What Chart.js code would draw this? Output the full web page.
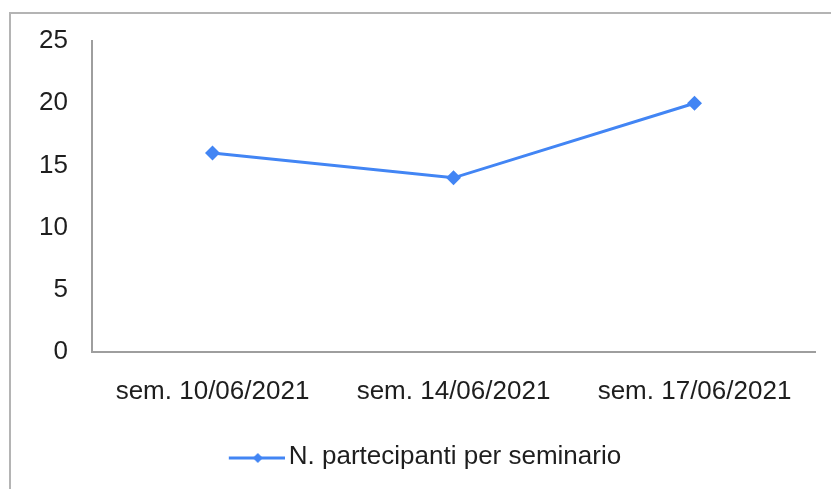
<!DOCTYPE html>
<html>
<head>
<meta charset="utf-8">
<script src="https://cdn.jsdelivr.net/npm/chart.js@4/dist/chart.umd.min.js"></script>
<style>
  html, body { margin: 0; padding: 0; background: #fff; overflow: hidden; }
  #frame { position: absolute; left: 9px; top: 12px; width: 900px; height: 600px; border: 2px solid #b4b4b4; background: #fff; }
  #wrap { position: absolute; left: 0; top: 0; width: 831px; height: 489px; }
</style>
</head>
<body>
<div id="frame"></div>
<div id="wrap"><canvas id="c" width="831" height="489"></canvas></div>
<script>
const categories = ["sem. 10/06/2021", "sem. 14/06/2021", "sem. 17/06/2021"];
const seriesName = "N. partecipanti per seminario";
const participants = [16, 14, 20];
const yTicks = [0, 5, 10, 15, 20, 25];

const BLUE = '#4285f4';
const TEXT = '#1e1e1e';
const AXIS = '#9e9e9e';
const FONT = { family: "'Liberation Sans', Arial, sans-serif", size: 26 };

// legend symbol: line with a diamond (image 74 wide, drawn from 18 to 74)
const sym = document.createElement('canvas');
sym.width = 74; sym.height = 16;
(function () {
  const g = sym.getContext('2d');
  g.strokeStyle = BLUE; g.lineWidth = 3;
  g.beginPath(); g.moveTo(18, 9); g.lineTo(74, 9); g.stroke();
  g.fillStyle = BLUE;
  g.beginPath(); g.moveTo(47, 4); g.lineTo(52, 9); g.lineTo(47, 14); g.lineTo(42, 9); g.closePath(); g.fill();
})();

const legendShift = {
  id: 'legendShift',
  afterLayout(chart) {
    const l = chart.legend;
    if (l) { l.left += 13; l.right += 13; }
  }
};

new Chart(document.getElementById('c'), {
  type: 'line',
  data: {
    labels: categories,
    datasets: [{
      label: seriesName,
      data: participants,
      borderColor: BLUE,
      backgroundColor: BLUE,
      borderWidth: 3,
      pointStyle: 'rectRot',
      pointRadius: 7.5,
      pointBorderWidth: 0,
      pointBackgroundColor: BLUE,
      tension: 0,
      fill: false
    }]
  },
  plugins: [legendShift],
  options: {
    responsive: false,
    animation: false,
    devicePixelRatio: 1,
    layout: { padding: { top: 41, right: 16, bottom: 9, left: 0 } },
    plugins: {
      tooltip: { enabled: false },
      legend: {
        position: 'bottom',
        labels: {
          font: FONT,
          color: TEXT,
          usePointStyle: true,
          pointStyleWidth: 56,
          boxHeight: 16,
          padding: 10,
          generateLabels: (chart) => [{
            text: seriesName,
            pointStyle: sym,
            fillStyle: BLUE,
            strokeStyle: BLUE,
            lineWidth: 0,
            hidden: false,
            datasetIndex: 0,
            fontColor: TEXT
          }]
        }
      }
    },
    scales: {
      x: {
        type: 'category',
        offset: true,
        grid: { display: true, drawOnChartArea: false, drawTicks: false },
        border: { display: true, color: AXIS, width: 2 },
        ticks: { font: FONT, color: TEXT, padding: 24, maxRotation: 0, autoSkip: false },
        afterFit: (s) => { s.height = 82; }
      },
      y: {
        min: 0,
        max: 25,
        afterBuildTicks: (s) => { s.ticks = yTicks.map(v => ({ value: v })); },
        grid: { display: true, drawOnChartArea: false, drawTicks: false },
        border: { display: true, color: AXIS, width: 2 },
        ticks: { font: FONT, color: TEXT, padding: 24 },
        afterFit: (s) => { s.width = 92; }
      }
    }
  }
});
</script>
</body>
</html>
